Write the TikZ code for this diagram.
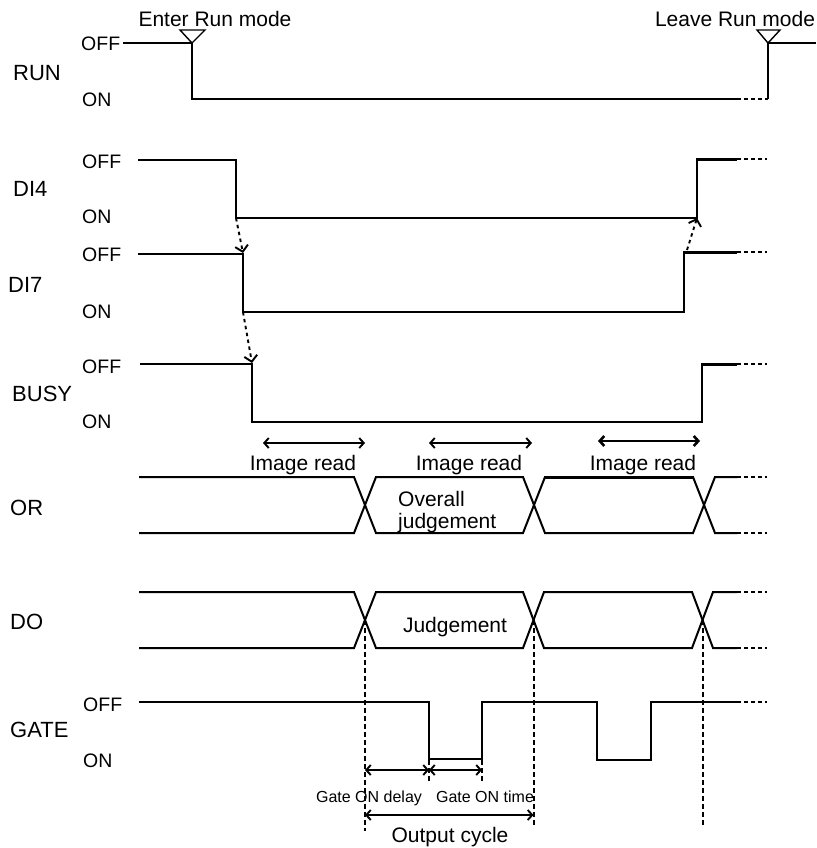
\documentclass[tikz,border=0pt]{standalone}
\usepackage{fontspec}
\setmainfont{Liberation Sans}
\usetikzlibrary{arrows.meta}
\begin{document}
\begin{tikzpicture}[x=1pt,y=-1pt,
  sig/.style={line width=2pt, line join=miter},
  thk/.style={line width=3pt},
  gatesig/.style={line width=2.5pt, line join=miter},
  dotln/.style={line width=2pt, dash pattern=on 3.5pt off 3.5pt},
  vdots/.style={line width=2pt, dash pattern=on 4.5pt off 3.5pt},
  sname/.style={anchor=west, inner sep=0pt, font=\fontsize{22}{26}\selectfont},
  lvl/.style={anchor=west, inner sep=0pt, font=\fontsize{19.5}{23}\selectfont},
  txt/.style={anchor=base, inner sep=0pt, font=\fontsize{21}{25}\selectfont},
  smalltxt/.style={anchor=base, inner sep=0pt, font=\fontsize{16}{19}\selectfont},
  barb/.style={{Straight Barb[length=4.5pt,width=10pt]}-{Straight Barb[length=4.5pt,width=10pt]}, line width=1.9pt},
  cause/.style={-{Straight Barb[length=6pt,width=13pt]}, line width=1.9pt, dash pattern=on 3.5pt off 3.5pt},
  trig/.style={line width=1.4pt, line join=miter}
]
\useasboundingbox (0,0) rectangle (816,848);

% ---------- RUN ----------
\node[sname] (nRUN) at (13,73) {RUN};
\node[lvl] (runoff) at (81,44) {OFF};
\node[lvl] (runon) at (82,100) {ON};
\draw[sig] (123,43) -- (192,43) -- (192,99) -- (737,99);
\draw[dotln] (737,99) -- (768,99);
\draw[sig] (768,99) -- (768,43) -- (816,43);
\draw[trig] (180,30) -- (205,30) -- (192,43) -- cycle;
\draw[trig] (757,30) -- (780,30) -- (768,43) -- cycle;
\node[txt] (enter) at (215,27) {Enter Run mode};
\node[txt] (leave) at (735,27) {Leave Run mode};

% ---------- DI4 ----------
\node[sname] (nDI4) at (13,189) {DI4};
\node[lvl] (di4off) at (82,162) {OFF};
\node[lvl] (di4on) at (82,217) {ON};
\coordinate (d4f) at (236,218);
\coordinate (d4r) at (697,218);
\draw[sig] (138,160) -- (236,160) -- (d4f) -- (d4r) -- (697,159);
\draw[thk] (696,159) -- (737,159);
\draw[dotln] (737,159) -- (767,159);

% ---------- DI7 ----------
\node[sname] (nDI7) at (8,285) {DI7};
\node[lvl] (di7off) at (82,255) {OFF};
\node[lvl] (di7on) at (82,312) {ON};
\coordinate (d7f) at (243,254);
\coordinate (d7fl) at (243,312);
\coordinate (d7r) at (684,252);
\draw[sig] (138,254) -- (d7f) -- (d7fl) -- (684,312) -- (d7r);
\draw[thk] (683,252) -- (737,252);
\draw[dotln] (737,252) -- (767,252);

% ---------- BUSY ----------
\node[sname] (nBUSY) at (12,394) {BUSY};
\node[lvl] (busyoff) at (82,367) {OFF};
\node[lvl] (busyon) at (82,422) {ON};
\coordinate (bf) at (252,364);
\draw[sig] (140,364) -- (bf) -- (252,422) -- (702,422) -- (702,364);
\draw[thk] (701,364) -- (737,364);
\draw[dotln] (737,364) -- (767,364);

% causal dotted arrows
\draw[cause] (d4f) -- ([shift={(0,-1)}]d7f);
\draw[cause] (d7fl) -- ([shift={(0,-1)}]bf);
\draw[cause] ([shift={(3,-2)}]d7r) -- (d4r);

% ---------- Image read ----------
\coordinate (ir1a) at (263,443); \coordinate (ir1b) at (365,443);
\coordinate (ir2a) at (429,443); \coordinate (ir2b) at (532,443);
\coordinate (ir3a) at (598,441); \coordinate (ir3b) at (700,441);
\draw[barb] (ir1a) -- (ir1b);
\draw[barb] (ir2a) -- (ir2b);
\draw[barb, line width=2.6pt] (ir3a) -- (ir3b);
\node[txt] (ir1) at (303,470) {Image read};
\node[txt] (ir2) at (469,470) {Image read};
\node[txt] (ir3) at (643,470) {Image read};

% ---------- OR ----------
\node[sname] (nOR) at (10,507.5) {OR};
\draw[sig] (139,477) -- (354,477) -- (376,533) -- (523,533) -- (545,477) -- (693,477) -- (715,533) -- (737,533);
\draw[sig] (139,533) -- (354,533) -- (376,477) -- (523,477) -- (545,533) -- (693,533) -- (715,477) -- (737,477);
\draw[thk] (545,477) -- (693,477);
\draw[dotln] (737,477) -- (767,477);
\draw[dotln] (737,533) -- (767,533);
\node[anchor=base west, inner sep=0pt, font=\fontsize{21}{25}\selectfont] (ov1) at (398,506) {Overall};
\node[anchor=base west, inner sep=0pt, font=\fontsize{21}{25}\selectfont] (ov2) at (398,528) {judgement};

% ---------- DO ----------
\node[sname] (nDO) at (10,622) {DO};
\draw[sig] (139,592) -- (354,592) -- (376,648) -- (523,648) -- (544,592) -- (692,592) -- (713,648) -- (737,648);
\draw[sig] (139,648) -- (354,648) -- (376,592) -- (523,592) -- (544,648) -- (692,648) -- (713,592) -- (737,592);
\draw[dotln] (737,592) -- (767,592);
\draw[dotln] (737,648) -- (767,648);
\node[txt] (judg) at (455,632) {Judgement};
\coordinate (x1) at (365,620); \coordinate (x2) at (533.5,620); \coordinate (x3) at (702.5,620);
\coordinate (e1) at (365,831); \coordinate (e2) at (533.5,828); \coordinate (e3) at (702.5,828);
\draw[vdots] (x1) -- (e1);
\draw[vdots] (x2) -- (e2);
\draw[vdots] (x3) -- (e3);

% ---------- GATE ----------
\node[sname] (nGATE) at (10,730) {GATE};
\node[lvl] (gateoff) at (83,705) {OFF};
\node[lvl] (gateon) at (83,761) {ON};
\draw[gatesig] (139,702) -- (429,702) -- (429,759) -- (482,759) -- (482,702) -- (597,702) -- (597,760) -- (651,760) -- (651,702) -- (737,702);
\draw[dotln] (737,702) -- (767,702);
\draw[vdots] (429,760) -- (429,782);
\draw[vdots] (482,760) -- (482,782);
\coordinate (g0) at (365,770); \coordinate (g1) at (429,770); \coordinate (g2) at (482,770);
\draw[barb] (g0) -- (g1);
\draw[barb] (g1) -- (g2);
\coordinate (oc0) at (365,815); \coordinate (oc1) at (533.5,815);
\draw[barb] (oc0) -- (oc1);
\node[smalltxt] (gdel) at (369,802) {Gate ON delay};
\node[smalltxt] (gtime) at (485,802) {Gate ON time};
\node[txt] (ocyc) at (450,842) {Output cycle};
\end{tikzpicture}
\end{document}
